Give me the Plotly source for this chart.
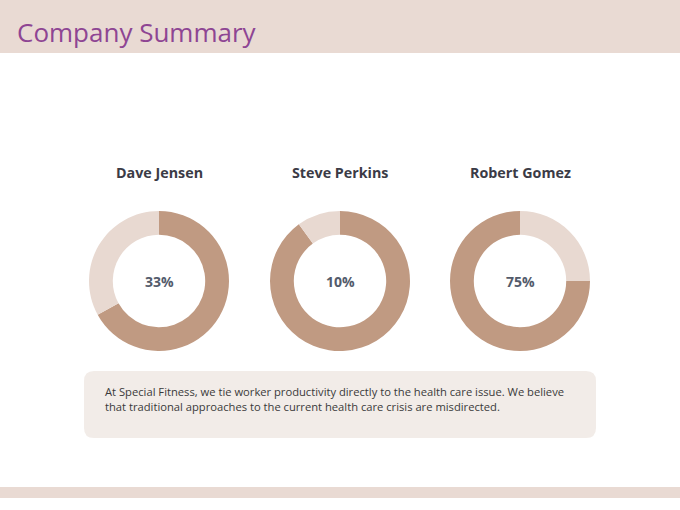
import plotly.graph_objects as go

# Data
names = ["Dave Jensen", "Steve Perkins", "Robert Gomez"]
pct_labels = ["33%", "10%", "75%"]
# slice values in drawing order (clockwise from 12 o'clock)
slice_values = [[67, 33], [90, 10], [25, 75]]
DARK = "#c09a82"
LIGHT = "#e8d9d1"
slice_colors = [[DARK, LIGHT], [DARK, LIGHT], [LIGHT, DARK]]
title = "Company Summary"
body = ("At Special Fitness, we tie worker productivity directly to the health care issue. We believe<br>"
        "that traditional approaches to the current health care crisis are misdirected.")

W, H = 680, 510
centers_x = [159, 340, 520]
cy = 281
R = 70

fig = go.Figure()

for i, (nm, vals, cols) in enumerate(zip(names, slice_values, slice_colors)):
    cx = centers_x[i]
    fig.add_trace(go.Pie(
        values=vals,
        labels=[f"{nm} a", f"{nm} b"],
        marker=dict(colors=cols, line=dict(width=0)),
        hole=0.66,
        sort=False,
        direction="clockwise",
        rotation=0,
        textinfo="none",
        hoverinfo="skip",
        showlegend=False,
        domain=dict(x=[(cx - R) / W, (cx + R) / W],
                    y=[1 - (cy + R) / H, 1 - (cy - R) / H]),
    ))

# hidden pixel axes
fig.update_xaxes(range=[0, W], visible=False, fixedrange=True)
fig.update_yaxes(range=[H, 0], visible=False, fixedrange=True)

shapes = [
    dict(type="rect", xref="x", yref="y", x0=0, x1=W, y0=0, y1=53,
         fillcolor="#e9dad3", line=dict(width=0), layer="below"),
    dict(type="rect", xref="x", yref="y", x0=0, x1=W, y0=487, y1=498,
         fillcolor="#e9dad3", line=dict(width=0), layer="below"),
]
x0, x1, y0, y1, r = 84, 596, 371, 438, 10
path = (f"M {x0+r},{y0} L {x1-r},{y0} Q {x1},{y0} {x1},{y0+r} "
        f"L {x1},{y1-r} Q {x1},{y1} {x1-r},{y1} L {x0+r},{y1} "
        f"Q {x0},{y1} {x0},{y1-r} L {x0},{y0+r} Q {x0},{y0} {x0+r},{y0} Z")
shapes.append(dict(type="path", xref="x", yref="y", path=path,
                   fillcolor="#f2ece8", line=dict(width=0), layer="below"))

annotations = [
    dict(x=15, y=32, xref="x", yref="y", text=title, showarrow=False,
         xanchor="left", yanchor="middle",
         font=dict(family="Open Sans", size=26, color="#8e4593")),
    dict(x=103, y=399, xref="x", yref="y", text=body, showarrow=False,
         xanchor="left", yanchor="middle", align="left",
         font=dict(family="Open Sans", size=11.2, color="#3a3a3a")),
]
for i, nm in enumerate(names):
    annotations.append(dict(x=centers_x[i], y=172, xref="x", yref="y", text=f"<b>{nm}</b>",
                            showarrow=False, xanchor="center", yanchor="middle",
                            font=dict(family="Open Sans", size=14.3, color="#3b3b46")))
    annotations.append(dict(x=centers_x[i], y=cy, xref="x", yref="y", text=f"<b>{pct_labels[i]}</b>",
                            showarrow=False, xanchor="center", yanchor="middle",
                            font=dict(family="Open Sans", size=14, color="#535b6b")))

fig.update_layout(
    width=W, height=H,
    margin=dict(l=0, r=0, t=0, b=0),
    paper_bgcolor="white", plot_bgcolor="white",
    shapes=shapes, annotations=annotations,
)

fig.write_html("out.html", config={"displayModeBar": False},
               post_script="document.body.style.margin='0';")
